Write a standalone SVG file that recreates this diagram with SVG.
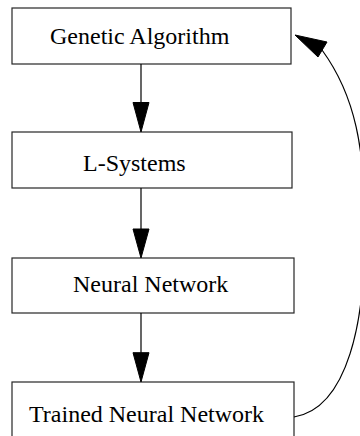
<svg xmlns="http://www.w3.org/2000/svg" width="360" height="436" viewBox="0 0 360 436">
  <style>
    .box { fill: #ffffff; stroke: #262626; stroke-width: 1.2; }
    .label { font-family: "Liberation Serif", "Times New Roman", serif; font-size: 24px; fill: #000000; }
    .edge { fill: none; stroke: #000000; stroke-width: 1.2; }
    .head { fill: #000000; stroke: #000000; stroke-width: 1; }
  </style>
  <rect width="360" height="436" fill="#ffffff"/>

  <!-- process steps -->
  <g id="genetic-algorithm">
    <rect class="box" x="12" y="8" width="279" height="56"/>
    <text class="label" x="50" y="43.5">Genetic Algorithm</text>
  </g>
  <g id="l-systems">
    <rect class="box" x="12" y="132" width="280" height="56"/>
    <text class="label" x="83" y="171">L-Systems</text>
  </g>
  <g id="neural-network">
    <rect class="box" x="12" y="258" width="282" height="55"/>
    <text class="label" x="73" y="291.5">Neural Network</text>
  </g>
  <g id="trained-neural-network">
    <rect class="box" x="12" y="382" width="282" height="60"/>
    <text class="label" x="29" y="421.5">Trained Neural Network</text>
  </g>

  <!-- connectors -->
  <g id="connectors">
    <line class="edge" x1="141" y1="64" x2="141" y2="103"/>
    <polygon class="head" points="133,102.5 149,102.5 141,132"/>

    <line class="edge" x1="141" y1="188" x2="141" y2="229"/>
    <polygon class="head" points="133,229 149,229 141,258"/>

    <line class="edge" x1="141" y1="313" x2="141" y2="353"/>
    <polygon class="head" points="133,352.7 149,352.7 141,382"/>

    <!-- feedback loop from the trained network back to the algorithm -->
    <path class="edge" d="M294,417 C348,408 366,320 364,230 C366,150 355,95 322,50"/>
    <polygon class="head" points="295,35 327,42 318,57"/>
  </g>
</svg>
